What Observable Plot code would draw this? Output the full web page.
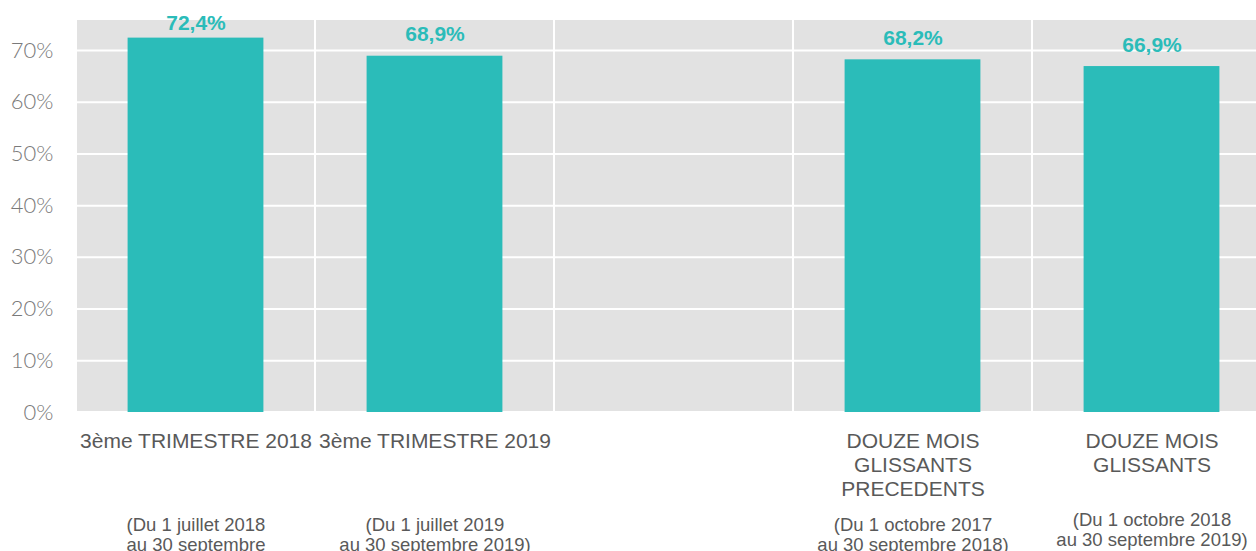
<!DOCTYPE html>
<html>
<head>
<meta charset="utf-8">
<script src="https://cdn.jsdelivr.net/npm/d3@7"></script>
<script src="https://cdn.jsdelivr.net/npm/@observablehq/plot@0.6"></script>
<style>
  html, body { margin: 0; padding: 0; overflow: hidden; background: white; }
</style>
</head>
<body>
<div id="chart"></div>
<script>
const categories = ["T3 2018", "T3 2019", "vide", "12M prec", "12M"];
const names = ["3ème TRIMESTRE 2018", "3ème TRIMESTRE 2019", "", "DOUZE MOIS\nGLISSANTS\nPRECEDENTS", "DOUZE MOIS\nGLISSANTS"];
const periods = ["(Du 1 juillet 2018\nau 30 septembre\n2018)", "(Du 1 juillet 2019\nau 30 septembre 2019)", "", "(Du 1 octobre 2017\nau 30 septembre 2018)", "(Du 1 octobre 2018\nau 30 septembre 2019)"];
const values = [72.4, 68.9, null, 68.2, 66.9];
const yTicks = [0, 10, 20, 30, 40, 50, 60, 70];
const yMax = 76;

const data = categories.map((c, i) => ({cat: c, name: names[i], period: periods[i], value: values[i]}));
const bars = data.filter(d => d.value != null);

const teal = "#2bbcb9";
const fmt = v => v.toFixed(1).replace(".", ",") + "%";

const chart = Plot.plot({
  width: 1271,
  height: 551,
  marginLeft: 75,
  marginRight: 0,
  marginTop: 19,
  marginBottom: 139,
  style: "max-width:none; font-family: 'Liberation Sans', Arial, sans-serif; background: white; overflow: visible;",
  x: {domain: categories, padding: 0, axis: null},
  y: {domain: [0, yMax], axis: null},
  marks: [
    Plot.barY(data, {x: "cat", y1: 0, y2: yMax, fill: "#e2e2e2", stroke: "white", strokeWidth: 2}),
    Plot.gridY(yTicks, {stroke: "white", strokeOpacity: 1, strokeWidth: 2}),
    Plot.axisY({ticks: yTicks, label: null, tickSize: 0, tickPadding: 22, tickFormat: d => d + "%", fontSize: 22, fontFamily: "Lato", fontWeight: 300, color: "#7a7a7a"}),
    Plot.barY(bars, {x: "cat", y: "value", fill: teal, insetLeft: 51.6, insetRight: 51.6}),
    Plot.text(bars.slice(0, 1), {x: "cat", y: "value", text: d => fmt(d.value), lineAnchor: "bottom", dy: -8.5, fill: teal, fontSize: 21, fontWeight: "bold"}),
    Plot.text(bars.slice(1), {x: "cat", y: "value", text: d => fmt(d.value), lineAnchor: "bottom", dy: -14.8, fill: teal, fontSize: 21, fontWeight: "bold"}),
    Plot.text(data, {x: "cat", text: "name", frameAnchor: "bottom", lineAnchor: "top", dy: 18, fontSize: 21, lineHeight: 1.143, fill: "#595959"}),
    Plot.text(data.slice(0, 4), {x: "cat", text: "period", frameAnchor: "bottom", lineAnchor: "top", dy: 104, fontSize: 18.5, lineHeight: 1.1, fill: "#595959"}),
    Plot.text(data.slice(4), {x: "cat", text: "period", frameAnchor: "bottom", lineAnchor: "top", dy: 99, fontSize: 18.5, lineHeight: 1.1, fill: "#595959"})
  ]
});
document.getElementById("chart").appendChild(chart);
</script>
</body>
</html>
